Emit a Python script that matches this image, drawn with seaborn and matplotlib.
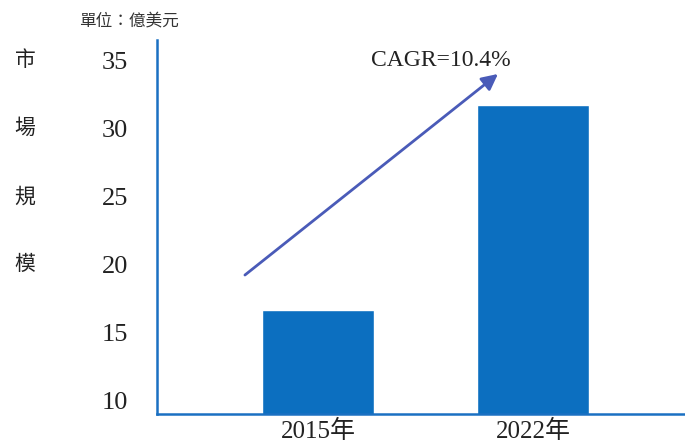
import matplotlib
matplotlib.use("Agg")
import matplotlib.pyplot as plt
import matplotlib.transforms as mtransforms
import seaborn as sns
import pandas as pd

years = ["2015年", "2022年"]
values = [16.6, 31.7]
yticks = [10, 15, 20, 25, 30, 35]
ylabel_chars = ["市", "場", "規", "模"]
unit_text = "單位：億美元"
cagr_text = "CAGR=10.4%"

sns.set_theme(style="white")
plt.rcParams["font.family"] = ["Liberation Serif", "Noto Sans CJK TC", "DejaVu Sans"]

df = pd.DataFrame({"year": years, "value": values})

fig = plt.figure(figsize=(6.85, 4.45), dpi=100)
ax = fig.add_axes([157/685, 31/445, 1 - 157/685, (414-40)/445])

bar_color = "#0c6fc0"
sns.barplot(data=df, x="year", y="value", color=bar_color, width=0.525,
            saturation=1, ax=ax)

ax.set_ylim(8.97, 36.5)
ax.set_xlim(-0.749, 1.707)
ax.set_yticks(yticks)
ax.set_yticklabels([str(t) for t in yticks])
ax.set_xlabel("")
ax.set_ylabel("")

for side in ["top", "right"]:
    ax.spines[side].set_visible(False)
for side in ["left", "bottom"]:
    ax.spines[side].set_color("#1a70c2")
    ax.spines[side].set_linewidth(1.8)

ax.tick_params(axis="y", length=0, pad=21, labelsize=19, labelcolor="#222222")
ax.tick_params(axis="x", length=0, pad=4, labelsize=18, labelcolor="#222222")
for lab in ax.get_xticklabels():
    lab.set_fontfamily(["Liberation Serif", "Noto Sans CJK TC"])

# vertical y label characters
trans = mtransforms.blended_transform_factory(fig.transFigure, ax.transData)
for ch, yv in zip(ylabel_chars, [35, 30, 25, 20]):
    ax.text(25/685, yv, ch, transform=trans, ha="center", va="center",
            fontsize=15, color="#222222", family=["Noto Sans CJK TC"])

# unit label
fig.text(129/685, 1 - 22/445, unit_text, ha="center", va="center",
         fontsize=12, color="#333333", family=["Noto Sans CJK TC"])

# growth arrow
ax.annotate("", xy=(0.837, 34.0), xytext=(-0.34, 19.2),
            arrowprops=dict(arrowstyle="-|>,head_length=0.8,head_width=0.4",
                            color="#4a5bb8", lw=2.0, shrinkA=0, shrinkB=0))
ax.text(0.572, 35.0, cagr_text, ha="center", va="center", fontsize=17,
        color="#222222")

fig.savefig("out.png", dpi=100)
